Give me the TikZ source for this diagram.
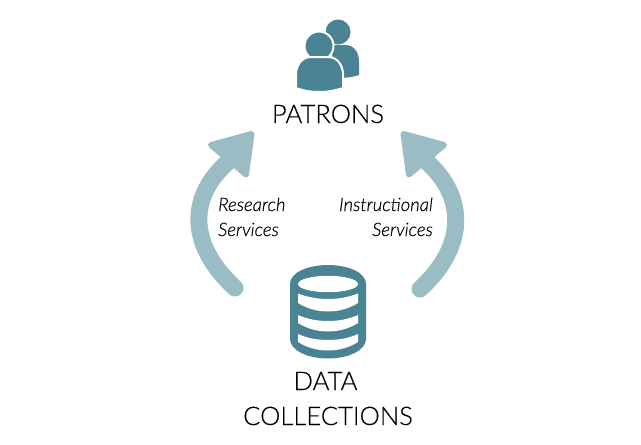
\documentclass[tikz,border=0pt]{standalone}
\usepackage{fontspec}
\setmainfont{Lato Light}[ItalicFont={Lato Light Italic},FakeBold=0.25]
\definecolor{icon}{HTML}{4A8393}
\definecolor{arrowc}{HTML}{9ABCC4}
\tikzset{
  title/.style={font=\fontsize{25.6}{25.6}\selectfont,text=black,inner sep=0pt,anchor=base},
  lab/.style={font=\fontsize{18.5}{18.5}\selectfont\itshape,text=black,inner sep=0pt,anchor=base},
  shaft/.style={draw=arrowc,line width=17pt,line cap=round},
  headtip/.style={fill=arrowc,draw=arrowc,line width=6pt,line join=round},
}
\begin{document}
\begin{tikzpicture}[x=1pt,y=-1pt]
\useasboundingbox (0,0) rectangle (641,445);
\fill[white] (0,0) rectangle (641,445);
% left arrow
\coordinate (ls) at (235,288);
\coordinate (lh) at (228,162);
\draw[shaft] (ls) .. controls (186,243) and (190,195) .. (lh);
\fill[headtip] (251.5,134) -- (211,145) -- (246,174.5) -- cycle;
% right arrow
\coordinate (rs) at (420,289);
\coordinate (rh) at (427,162);
\draw[shaft] (rs) .. controls (469,244) and (464,195) .. (rh);
\fill[headtip] (403.5,134) -- (444,145) -- (409,174.5) -- cycle;
% patrons icon
\fill[icon] (338,32) circle (12.5);
\fill[icon] (331,45) -- (345,45) .. controls (354,45) and (359,52) .. (359,62) -- (359,75) .. controls (352,77.5) and (345,78) .. (335,78) -- cycle;
\fill[icon,draw=white,line width=2pt] (319,46) circle (14.5);
\fill[icon,draw=white,line width=2pt] (311,57) -- (328,57) .. controls (338,57) and (343,66) .. (343,75) -- (343,88) .. controls (334,91) and (326,92) .. (319.5,92) .. controls (311,92) and (304,91) .. (296,88) -- (296,75) .. controls (296,66) and (301,57) .. (311,57) -- cycle;
% database icon
\fill[icon] (290,284) .. controls (290,273) and (307,265) .. (328,265) .. controls (349,265) and (366,273) .. (366,284)
  -- (366,339) .. controls (366,350) and (349,358.5) .. (328,358.5) .. controls (307,358.5) and (290,350) .. (290,339) -- cycle;
\fill[white] (328,284) ellipse (30 and 8.2);
\fill[white] (298,293.5) .. controls (307,297) and (317,299) .. (328,299) .. controls (339,299) and (349,297) .. (358,293.5) -- (358,303) .. controls (350,308) and (340,311.5) .. (328,311.5) .. controls (316,311.5) and (306,308) .. (298,303) -- cycle;
\fill[white] (298,315) .. controls (307,319) and (317,321) .. (328,321) .. controls (339,321) and (349,319) .. (358,315) -- (358,323) .. controls (350,328) and (340,331.5) .. (328,331.5) .. controls (316,331.5) and (306,328) .. (298,323) -- cycle;
\fill[white] (298,334) .. controls (307,338) and (317,340) .. (328,340) .. controls (339,340) and (349,338) .. (358,334) -- (358,342) .. controls (350,347) and (340,350.5) .. (328,350.5) .. controls (316,350.5) and (306,347) .. (298,342) -- cycle;
% text
\node[title] (patrons) at (328,123) {PATRONS};
\node[title] (data) at (325.5,390) {DATA};
\node[title] (coll) at (328,425) {COLLECTIONS};
\node[lab,anchor=base west] (res) at (218,211) {Research};
\node[lab,anchor=base west] (ser1) at (218,236) {Services};
\node[lab,anchor=base east] (ins) at (433,211) {Instructional};
\node[lab,anchor=base east] (ser2) at (433,236) {Services};
\end{tikzpicture}
\end{document}
